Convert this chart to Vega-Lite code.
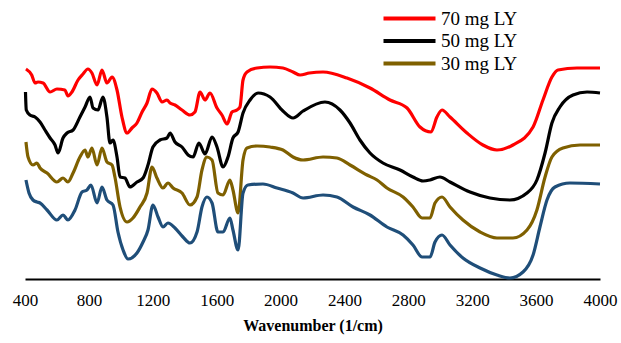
{
  "$schema": "https://vega.github.io/schema/vega-lite/v6.json",
  "autosize": {"type": "none"},
  "width": 575,
  "height": 274,
  "padding": {"left": 25, "top": 5, "right": 21, "bottom": 64},
  "background": "white",
  "config": {"view": {"stroke": null}, "font": "'Liberation Serif', 'Times New Roman', 'DejaVu Serif', serif"},
  "data": {"values": [
    {"s":"70 mg LY","w":406,"t":210},{"s":"70 mg LY","w":442,"t":204},{"s":"70 mg LY","w":463,"t":196},{"s":"70 mg LY","w":481,"t":197},{"s":"70 mg LY","w":513,"t":196},{"s":"70 mg LY","w":557,"t":187},{"s":"70 mg LY","w":600,"t":190},{"s":"70 mg LY","w":650,"t":189},{"s":"70 mg LY","w":669,"t":183},{"s":"70 mg LY","w":694,"t":187},{"s":"70 mg LY","w":732,"t":199},{"s":"70 mg LY","w":763,"t":205},{"s":"70 mg LY","w":794,"t":210},{"s":"70 mg LY","w":819,"t":206},{"s":"70 mg LY","w":851,"t":194},{"s":"70 mg LY","w":882,"t":209},{"s":"70 mg LY","w":913,"t":196},{"s":"70 mg LY","w":945,"t":202},{"s":"70 mg LY","w":976,"t":189},{"s":"70 mg LY","w":1007,"t":162},{"s":"70 mg LY","w":1039,"t":146},{"s":"70 mg LY","w":1070,"t":151},{"s":"70 mg LY","w":1101,"t":156},{"s":"70 mg LY","w":1133,"t":167},{"s":"70 mg LY","w":1164,"t":176},{"s":"70 mg LY","w":1195,"t":190},{"s":"70 mg LY","w":1226,"t":186},{"s":"70 mg LY","w":1258,"t":177},{"s":"70 mg LY","w":1289,"t":179},{"s":"70 mg LY","w":1308,"t":176},{"s":"70 mg LY","w":1339,"t":174},{"s":"70 mg LY","w":1383,"t":169},{"s":"70 mg LY","w":1433,"t":164},{"s":"70 mg LY","w":1464,"t":167},{"s":"70 mg LY","w":1496,"t":187},{"s":"70 mg LY","w":1527,"t":179},{"s":"70 mg LY","w":1558,"t":186},{"s":"70 mg LY","w":1602,"t":171},{"s":"70 mg LY","w":1633,"t":164},{"s":"70 mg LY","w":1665,"t":155},{"s":"70 mg LY","w":1696,"t":167},{"s":"70 mg LY","w":1727,"t":169},{"s":"70 mg LY","w":1746,"t":172},{"s":"70 mg LY","w":1765,"t":199},{"s":"70 mg LY","w":1790,"t":207},{"s":"70 mg LY","w":1853,"t":211},{"s":"70 mg LY","w":1934,"t":212},{"s":"70 mg LY","w":2015,"t":211},{"s":"70 mg LY","w":2078,"t":207},{"s":"70 mg LY","w":2122,"t":204},{"s":"70 mg LY","w":2180,"t":206},{"s":"70 mg LY","w":2266,"t":207},{"s":"70 mg LY","w":2416,"t":201},{"s":"70 mg LY","w":2560,"t":191},{"s":"70 mg LY","w":2685,"t":179},{"s":"70 mg LY","w":2792,"t":171},{"s":"70 mg LY","w":2873,"t":152},{"s":"70 mg LY","w":2942,"t":147},{"s":"70 mg LY","w":2979,"t":162},{"s":"70 mg LY","w":3011,"t":169},{"s":"70 mg LY","w":3061,"t":162},{"s":"70 mg LY","w":3167,"t":146},{"s":"70 mg LY","w":3267,"t":134},{"s":"70 mg LY","w":3355,"t":129},{"s":"70 mg LY","w":3455,"t":134},{"s":"70 mg LY","w":3581,"t":152},{"s":"70 mg LY","w":3643,"t":179},{"s":"70 mg LY","w":3699,"t":202},{"s":"70 mg LY","w":3737,"t":209},{"s":"70 mg LY","w":3856,"t":211},{"s":"70 mg LY","w":4000,"t":211},

    {"s":"50 mg LY","w":403,"t":187},{"s":"50 mg LY","w":408,"t":169},{"s":"50 mg LY","w":431,"t":164},{"s":"50 mg LY","w":463,"t":162},{"s":"50 mg LY","w":494,"t":157},{"s":"50 mg LY","w":525,"t":149},{"s":"50 mg LY","w":557,"t":141},{"s":"50 mg LY","w":588,"t":134},{"s":"50 mg LY","w":607,"t":126},{"s":"50 mg LY","w":638,"t":141},{"s":"50 mg LY","w":663,"t":146},{"s":"50 mg LY","w":701,"t":149},{"s":"50 mg LY","w":744,"t":162},{"s":"50 mg LY","w":776,"t":172},{"s":"50 mg LY","w":807,"t":182},{"s":"50 mg LY","w":826,"t":171},{"s":"50 mg LY","w":857,"t":169},{"s":"50 mg LY","w":888,"t":182},{"s":"50 mg LY","w":913,"t":162},{"s":"50 mg LY","w":932,"t":136},{"s":"50 mg LY","w":951,"t":139},{"s":"50 mg LY","w":976,"t":122},{"s":"50 mg LY","w":995,"t":102},{"s":"50 mg LY","w":1026,"t":101},{"s":"50 mg LY","w":1057,"t":92},{"s":"50 mg LY","w":1101,"t":97},{"s":"50 mg LY","w":1139,"t":101},{"s":"50 mg LY","w":1170,"t":114},{"s":"50 mg LY","w":1201,"t":132},{"s":"50 mg LY","w":1245,"t":139},{"s":"50 mg LY","w":1289,"t":141},{"s":"50 mg LY","w":1308,"t":146},{"s":"50 mg LY","w":1339,"t":137},{"s":"50 mg LY","w":1383,"t":132},{"s":"50 mg LY","w":1421,"t":124},{"s":"50 mg LY","w":1452,"t":122},{"s":"50 mg LY","w":1489,"t":136},{"s":"50 mg LY","w":1527,"t":125},{"s":"50 mg LY","w":1571,"t":142},{"s":"50 mg LY","w":1602,"t":132},{"s":"50 mg LY","w":1640,"t":112},{"s":"50 mg LY","w":1671,"t":122},{"s":"50 mg LY","w":1702,"t":141},{"s":"50 mg LY","w":1734,"t":147},{"s":"50 mg LY","w":1765,"t":166},{"s":"50 mg LY","w":1809,"t":179},{"s":"50 mg LY","w":1859,"t":186},{"s":"50 mg LY","w":1934,"t":182},{"s":"50 mg LY","w":2015,"t":168},{"s":"50 mg LY","w":2078,"t":161},{"s":"50 mg LY","w":2141,"t":168},{"s":"50 mg LY","w":2278,"t":177},{"s":"50 mg LY","w":2372,"t":169},{"s":"50 mg LY","w":2435,"t":156},{"s":"50 mg LY","w":2497,"t":139},{"s":"50 mg LY","w":2560,"t":126},{"s":"50 mg LY","w":2641,"t":116},{"s":"50 mg LY","w":2748,"t":109},{"s":"50 mg LY","w":2829,"t":102},{"s":"50 mg LY","w":2892,"t":98},{"s":"50 mg LY","w":2936,"t":99},{"s":"50 mg LY","w":2998,"t":102},{"s":"50 mg LY","w":3061,"t":97},{"s":"50 mg LY","w":3186,"t":87},{"s":"50 mg LY","w":3311,"t":81},{"s":"50 mg LY","w":3436,"t":79},{"s":"50 mg LY","w":3543,"t":86},{"s":"50 mg LY","w":3605,"t":99},{"s":"50 mg LY","w":3656,"t":126},{"s":"50 mg LY","w":3699,"t":156},{"s":"50 mg LY","w":3749,"t":172},{"s":"50 mg LY","w":3831,"t":184},{"s":"50 mg LY","w":3919,"t":187},{"s":"50 mg LY","w":4000,"t":186},

    {"s":"30 mg LY","w":406,"t":137},{"s":"30 mg LY","w":419,"t":122},{"s":"30 mg LY","w":450,"t":114},{"s":"30 mg LY","w":475,"t":116},{"s":"30 mg LY","w":494,"t":111},{"s":"30 mg LY","w":538,"t":106},{"s":"30 mg LY","w":600,"t":97},{"s":"30 mg LY","w":638,"t":101},{"s":"30 mg LY","w":669,"t":97},{"s":"30 mg LY","w":701,"t":106},{"s":"30 mg LY","w":744,"t":122},{"s":"30 mg LY","w":776,"t":129},{"s":"30 mg LY","w":794,"t":122},{"s":"30 mg LY","w":819,"t":131},{"s":"30 mg LY","w":851,"t":114},{"s":"30 mg LY","w":882,"t":131},{"s":"30 mg LY","w":913,"t":117},{"s":"30 mg LY","w":945,"t":114},{"s":"30 mg LY","w":963,"t":102},{"s":"30 mg LY","w":995,"t":72},{"s":"30 mg LY","w":1039,"t":57},{"s":"30 mg LY","w":1076,"t":61},{"s":"30 mg LY","w":1120,"t":72},{"s":"30 mg LY","w":1164,"t":86},{"s":"30 mg LY","w":1195,"t":112},{"s":"30 mg LY","w":1226,"t":101},{"s":"30 mg LY","w":1264,"t":91},{"s":"30 mg LY","w":1295,"t":96},{"s":"30 mg LY","w":1327,"t":91},{"s":"30 mg LY","w":1383,"t":86},{"s":"30 mg LY","w":1433,"t":74},{"s":"30 mg LY","w":1477,"t":82},{"s":"30 mg LY","w":1508,"t":109},{"s":"30 mg LY","w":1539,"t":122},{"s":"30 mg LY","w":1571,"t":119},{"s":"30 mg LY","w":1608,"t":86},{"s":"30 mg LY","w":1640,"t":84},{"s":"30 mg LY","w":1683,"t":99},{"s":"30 mg LY","w":1702,"t":89},{"s":"30 mg LY","w":1734,"t":66},{"s":"30 mg LY","w":1765,"t":119},{"s":"30 mg LY","w":1790,"t":131},{"s":"30 mg LY","w":1853,"t":133},{"s":"30 mg LY","w":1934,"t":132},{"s":"30 mg LY","w":2015,"t":129},{"s":"30 mg LY","w":2078,"t":122},{"s":"30 mg LY","w":2141,"t":119},{"s":"30 mg LY","w":2266,"t":122},{"s":"30 mg LY","w":2353,"t":121},{"s":"30 mg LY","w":2435,"t":114},{"s":"30 mg LY","w":2541,"t":104},{"s":"30 mg LY","w":2604,"t":99},{"s":"30 mg LY","w":2666,"t":91},{"s":"30 mg LY","w":2767,"t":82},{"s":"30 mg LY","w":2829,"t":72},{"s":"30 mg LY","w":2886,"t":61},{"s":"30 mg LY","w":2936,"t":61},{"s":"30 mg LY","w":2967,"t":76},{"s":"30 mg LY","w":3011,"t":82},{"s":"30 mg LY","w":3061,"t":72},{"s":"30 mg LY","w":3142,"t":59},{"s":"30 mg LY","w":3249,"t":47},{"s":"30 mg LY","w":3355,"t":41},{"s":"30 mg LY","w":3455,"t":41},{"s":"30 mg LY","w":3543,"t":49},{"s":"30 mg LY","w":3605,"t":69},{"s":"30 mg LY","w":3656,"t":102},{"s":"30 mg LY","w":3699,"t":122},{"s":"30 mg LY","w":3768,"t":131},{"s":"30 mg LY","w":3875,"t":134},{"s":"30 mg LY","w":4000,"t":134},

    {"s":"Control","w":406,"t":99},{"s":"Control","w":425,"t":86},{"s":"Control","w":450,"t":79},{"s":"Control","w":475,"t":77},{"s":"Control","w":494,"t":76},{"s":"Control","w":538,"t":69},{"s":"Control","w":600,"t":59},{"s":"Control","w":638,"t":64},{"s":"Control","w":669,"t":59},{"s":"Control","w":713,"t":69},{"s":"Control","w":757,"t":87},{"s":"Control","w":788,"t":89},{"s":"Control","w":813,"t":94},{"s":"Control","w":851,"t":76},{"s":"Control","w":882,"t":92},{"s":"Control","w":913,"t":79},{"s":"Control","w":951,"t":74},{"s":"Control","w":982,"t":47},{"s":"Control","w":1014,"t":29},{"s":"Control","w":1045,"t":20},{"s":"Control","w":1101,"t":26},{"s":"Control","w":1139,"t":37},{"s":"Control","w":1170,"t":49},{"s":"Control","w":1201,"t":74},{"s":"Control","w":1233,"t":62},{"s":"Control","w":1264,"t":52},{"s":"Control","w":1295,"t":56},{"s":"Control","w":1339,"t":51},{"s":"Control","w":1389,"t":42},{"s":"Control","w":1433,"t":36},{"s":"Control","w":1477,"t":47},{"s":"Control","w":1508,"t":72},{"s":"Control","w":1539,"t":82},{"s":"Control","w":1571,"t":76},{"s":"Control","w":1608,"t":47},{"s":"Control","w":1640,"t":47},{"s":"Control","w":1683,"t":61},{"s":"Control","w":1702,"t":49},{"s":"Control","w":1734,"t":29},{"s":"Control","w":1765,"t":86},{"s":"Control","w":1796,"t":94},{"s":"Control","w":1890,"t":95},{"s":"Control","w":1978,"t":91},{"s":"Control","w":2078,"t":86},{"s":"Control","w":2141,"t":81},{"s":"Control","w":2266,"t":84},{"s":"Control","w":2353,"t":82},{"s":"Control","w":2454,"t":72},{"s":"Control","w":2560,"t":64},{"s":"Control","w":2666,"t":52},{"s":"Control","w":2767,"t":44},{"s":"Control","w":2829,"t":34},{"s":"Control","w":2886,"t":22},{"s":"Control","w":2936,"t":22},{"s":"Control","w":2967,"t":37},{"s":"Control","w":3011,"t":44},{"s":"Control","w":3061,"t":34},{"s":"Control","w":3142,"t":21},{"s":"Control","w":3249,"t":11},{"s":"Control","w":3355,"t":4},{"s":"Control","w":3436,"t":1},{"s":"Control","w":3518,"t":7},{"s":"Control","w":3581,"t":24},{"s":"Control","w":3624,"t":52},{"s":"Control","w":3668,"t":79},{"s":"Control","w":3718,"t":92},{"s":"Control","w":3812,"t":96},{"s":"Control","w":4000,"t":95}
  ]},
  "mark": {"type": "line", "strokeWidth": 3.2, "interpolate": "monotone", "clip": false},
  "encoding": {
    "x": {
      "field": "w", "type": "quantitative",
      "scale": {"domain": [400, 4000], "nice": false, "zero": false},
      "axis": {
        "title": "Wavenumber (1/cm)",
        "values": [400, 800, 1200, 1600, 2000, 2400, 2800, 3200, 3600, 4000],
        "format": "d",
        "grid": false, "ticks": false, "tickSize": 0,
        "domainColor": "black", "domainWidth": 2,
        "labelFont": "'Liberation Serif', 'Times New Roman', 'DejaVu Serif', serif", "labelFontSize": 17, "labelColor": "black",
        "labelPadding": 13, "labelFlush": false,
        "titleFont": "'Liberation Serif', 'Times New Roman', 'DejaVu Serif', serif", "titleFontSize": 16, "titleFontWeight": "bold",
        "titleColor": "black", "titlePadding": 9
      }
    },
    "y": {
      "field": "t", "type": "quantitative",
      "scale": {"domain": [0, 274], "nice": false},
      "axis": null
    },
    "color": {
      "field": "s", "type": "nominal",
      "scale": {
        "domain": ["70 mg LY", "50 mg LY", "30 mg LY", "Control"],
        "range": ["#FF0000", "#000000", "#7F6000", "#1F4E79"]
      },
      "legend": {
        "values": ["70 mg LY", "50 mg LY", "30 mg LY"],
        "title": null,
        "orient": "none", "legendX": 375, "legendY": 4,
        "padding": 0,
        "symbolType": "M-4,0H4", "symbolSize": 169, "symbolStrokeWidth": 4,
        "labelFont": "'Liberation Serif', 'Times New Roman', 'DejaVu Serif', serif", "labelFontSize": 19, "labelColor": "black",
        "labelOffset": 22, "rowPadding": 2.5
      }
    },
    "order": {"field": "s"}
  }
}
